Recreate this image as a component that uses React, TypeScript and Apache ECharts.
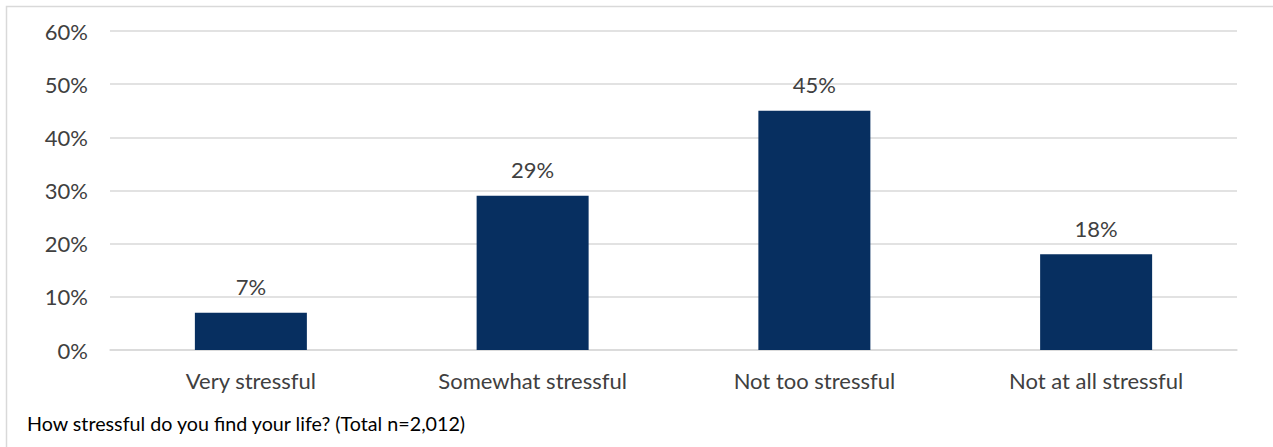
import React, { useEffect, useRef } from "react";
import * as echarts from "echarts";

const categories = ["Very stressful", "Somewhat stressful", "Not too stressful", "Not at all stressful"];
const values = [7, 29, 45, 18];
const yTicks = [0, 10, 20, 30, 40, 50, 60];
const footnote = "How stressful do you find your life? (Total n=2,012)";

const FONT = "Lato, 'Open Sans', sans-serif";

export default function App() {
  const ref = useRef<HTMLDivElement>(null);
  useEffect(() => {
    if (!ref.current) return;
    const chart = echarts.init(ref.current, null, { renderer: "svg" });
    chart.setOption({
      animation: false,
      backgroundColor: "#ffffff",
      textStyle: { fontFamily: FONT },
      grid: { left: 110, right: 36, top: 31, bottom: 97, containLabel: false },
      xAxis: {
        type: "category",
        data: categories,
        axisLine: { show: true, lineStyle: { color: "#d9d9d9", width: 1.5 } },
        axisTick: { show: false },
        axisLabel: { color: "#404040", fontSize: 22, margin: 19, fontFamily: FONT },
      },
      yAxis: {
        type: "value",
        min: yTicks[0],
        max: yTicks[yTicks.length - 1],
        interval: 10,
        axisLine: { show: false },
        axisTick: { show: false },
        splitLine: { lineStyle: { color: "#d9d9d9", width: 1.5 } },
        axisLabel: { color: "#404040", fontSize: 22, margin: 22, formatter: (v: number) => v + "%", fontFamily: FONT },
      },
      series: [
        {
          type: "bar",
          data: values,
          barWidth: 112,
          itemStyle: { color: "#072f60" },
          label: {
            show: true,
            position: "top",
            distance: 15,
            color: "#404040",
            fontSize: 22,
            fontFamily: FONT,
            formatter: (p: any) => p.value + "%",
          },
        },
      ],
      graphic: [
        {
          type: "rect",
          shape: { x: 6.5, y: 6.5, width: 1300, height: 500 },
          style: { fill: "none", stroke: "#d9d9d9", lineWidth: 1.5 },
          silent: true,
        },
        {
          type: "text",
          left: 27,
          top: 413,
          style: { text: footnote, fill: "#000000", fontSize: 19.7, fontFamily: FONT },
        },
      ],
    });
    return () => chart.dispose();
  }, []);
  return (
    <div
      ref={ref}
      style={{ position: "fixed", left: 0, top: 0, width: 1273, height: 447 }}
    />
  );
}
